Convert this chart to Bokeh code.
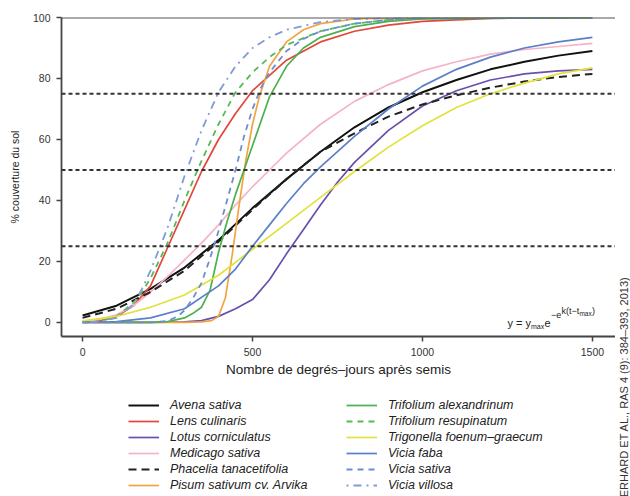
import math
from bokeh.plotting import figure
from bokeh.layouts import row, column
from bokeh.models import Span, Legend, LegendItem, Label, Range1d, FixedTicker
from bokeh.embed import file_html
from bokeh.resources import INLINE

# ---- data ----
avena_t = [0, 100, 200, 300, 400, 500, 600, 700, 800, 900, 1000, 1100, 1200, 1300, 1400, 1500]
avena_y = [2.3, 5.5, 11, 18, 27, 37.5, 47, 56, 64, 70.5, 75.5, 79.5, 83, 85.5, 87.5, 89]

lens_t = [0, 50, 100, 150, 200, 250, 300, 350, 400, 450, 500, 550, 600, 700, 800, 900, 1000, 1200, 1500]
lens_y = [0.1, 0.6, 2, 5.5, 12, 24.5, 37, 49.5, 60, 68.5, 76, 81, 86, 92, 95.5, 97.5, 98.7, 99.7, 100]

lotus_t = [0, 200, 300, 350, 400, 450, 500, 550, 600, 650, 700, 750, 800, 900, 1000, 1100, 1200, 1300, 1400, 1500]
lotus_y = [0, 0, 0.2, 0.6, 2, 4.5, 7.5, 14, 22.5, 30.5, 38.5, 46, 52.5, 63, 71, 76, 79.5, 81.5, 82.5, 83]

medicago_t = [0, 50, 100, 150, 200, 250, 300, 350, 400, 450, 500, 550, 600, 700, 800, 900, 1000, 1100, 1200, 1300, 1400, 1500]
medicago_y = [0.3, 1, 2.5, 5.5, 10, 15, 20.5, 26, 32, 38.5, 44.5, 50, 55.5, 65, 72.5, 78, 82.5, 85.5, 88, 89.5, 90.5, 91.5]

phacelia_t = [0, 100, 200, 300, 400, 500, 600, 700, 800, 900, 1000, 1100, 1200, 1300, 1400, 1500]
phacelia_y = [1.5, 4.5, 10, 17, 26.5, 37, 47, 56, 62, 67.5, 71.5, 74.5, 77, 79, 80.5, 81.5]

pisum_t = [0, 300, 350, 380, 400, 420, 440, 460, 480, 500, 520, 550, 600, 650, 700, 800, 1000, 1500]
pisum_y = [0, 0, 0.2, 0.6, 2, 8, 22, 38, 53, 65, 74, 84, 92, 96, 98, 99.5, 100, 100]

alexandrinum_t = [0, 200, 250, 300, 325, 350, 375, 400, 425, 450, 475, 500, 550, 600, 650, 700, 800, 900, 1000, 1500]
alexandrinum_y = [0, 0, 0.3, 1.5, 3, 5, 10.5, 23, 33, 42, 50, 58, 74, 84, 90, 93.5, 97, 98.7, 99.5, 100]

resupinatum_t = [0, 50, 100, 150, 175, 200, 250, 300, 350, 400, 450, 500, 550, 600, 700, 800, 900, 1000, 1500]
resupinatum_y = [0, 0.3, 2, 6.5, 10, 14.5, 26, 40, 53, 65, 75.5, 82, 87, 91, 95.5, 98, 99.2, 99.7, 100]

trigonella_t = [0, 100, 200, 300, 400, 500, 600, 700, 800, 900, 1000, 1100, 1200, 1300, 1400, 1500]
trigonella_y = [0.5, 2, 5, 9, 15.5, 24, 32.5, 41, 49.5, 57.5, 64.5, 70.5, 75, 78.5, 81.5, 83.5]

faba_t = [0, 100, 200, 300, 400, 450, 500, 550, 600, 650, 700, 800, 900, 1000, 1100, 1200, 1300, 1400, 1500]
faba_y = [0, 0.3, 1.5, 4.5, 12, 17.5, 25, 32, 39, 45.5, 51, 61, 70, 77.5, 83, 87, 90, 92, 93.5]

sativa_t = [0, 200, 250, 280, 300, 325, 350, 375, 400, 425, 450, 475, 500, 525, 550, 600, 650, 700, 800, 900, 1000, 1500]
sativa_y = [0, 0, 0.5, 2, 4, 8, 13, 21, 30, 40, 50, 61, 70, 77, 82, 89, 93, 95.5, 98, 99.2, 99.7, 100]

villosa_t = [0, 50, 100, 150, 175, 200, 225, 250, 300, 350, 400, 450, 500, 550, 600, 700, 800, 1000, 1500]
villosa_y = [0, 0.3, 1.5, 6, 11, 17, 24, 31, 48, 63, 75.5, 84, 90, 93.5, 96, 98.5, 99.5, 100, 100]

species = ["Avena sativa", "Lens culinaris", "Lotus corniculatus", "Medicago sativa",
           "Phacelia tanacetifolia", "Pisum sativum cv. Arvika",
           "Trifolium alexandrinum", "Trifolium resupinatum", "Trigonella foenum\u2013graecum",
           "Vicia faba", "Vicia sativa", "Vicia villosa"]
series_t = [avena_t, lens_t, lotus_t, medicago_t, phacelia_t, pisum_t,
            alexandrinum_t, resupinatum_t, trigonella_t, faba_t, sativa_t, villosa_t]
series_y = [avena_y, lens_y, lotus_y, medicago_y, phacelia_y, pisum_y,
            alexandrinum_y, resupinatum_y, trigonella_y, faba_y, sativa_y, villosa_y]

x_ticks = [0, 500, 1000, 1500]
y_ticks = [0, 20, 40, 60, 80, 100]
ref_levels = [25, 50, 75]
citation = "(GERHARD ET AL., RAS 4 (9): 384\u2013393, 2013)"

# ---- styles ----
colors = ["#111111", "#e2473b", "#6a4fae", "#f4b4c6", "#222222", "#f2a444",
          "#4cb04f", "#56b956", "#e2e23c", "#5b7fc8", "#6f8ed0", "#7f9bd8"]
dashes = ["solid", "solid", "solid", "solid", "8 5", "solid",
          "solid", "6 5", "solid", "solid", "6 5", "2 5 8 5"]
widths = [2.0, 1.7, 1.7, 1.7, 2.0, 1.7, 1.7, 1.8, 1.7, 1.7, 1.8, 1.8]

FONT = "Liberation Sans"

# ---- main plot ----
p = figure(width=615, height=382, output_backend="svg", toolbar_location=None,
           x_range=Range1d(-62, 1568), y_range=Range1d(-4.6, 100),
           min_border_left=61, min_border_right=0, min_border_top=17, min_border_bottom=46)
p.outline_line_color = None
p.grid.visible = False

for t, y, c, d, w in zip(series_t, series_y, colors, dashes, widths):
    p.line(t, y, line_color=c, line_dash=d, line_width=w)

for lv in ref_levels:
    p.add_layout(Span(location=lv, dimension="width", line_color="#333333",
                      line_dash="4 3", line_width=1.8))
p.add_layout(Span(location=100, dimension="width", line_color="#555555", line_width=2))

p.xaxis.ticker = FixedTicker(ticks=x_ticks)
p.yaxis.ticker = FixedTicker(ticks=y_ticks)
for ax in (p.xaxis[0], p.yaxis[0]):
    ax.axis_line_color = "#444444"
    ax.axis_line_width = 1.8
    ax.major_tick_line_color = "#444444"
    ax.major_tick_line_width = 1.5
    ax.major_tick_out = 5
    ax.major_tick_in = 0
    ax.minor_tick_line_color = None
    ax.major_label_text_font = FONT
    ax.major_label_text_font_size = "10.5px"
    ax.major_label_text_color = "#333333"
    ax.major_label_standoff = 6
    ax.axis_label_text_font = FONT
    ax.axis_label_text_font_style = "normal"
    ax.axis_label_text_color = "#222222"

p.xaxis.axis_label = "Nombre de degrés\u2013jours après semis"
p.xaxis.axis_label_text_font_size = "13.5px"
p.xaxis.axis_label_standoff = 3
p.yaxis.axis_label = "% couverture du sol"
p.yaxis.axis_label_text_font_size = "10.5px"
p.yaxis.axis_label_standoff = 9

# formula y = ymax e^(-e^(k(t - tmax)))
fx, fy = 1250, -0.33
parts = [("y = y", "11px", 0, 0), ("max", "7px", 23.5, -3), ("e", "11px", 37, 0),
         ("\u2212e", "9px", 43.5, 8), ("k(t\u2212t", "9px", 54, 12), ("max", "6.5px", 72, 10),
         (")", "9px", 84.5, 12)]
for txt, fs, xo, yo in parts:
    p.add_layout(Label(x=fx, y=fy, x_offset=xo, y_offset=yo, text=txt,
                       text_font=FONT, text_font_size=fs, text_color="#222222",
                       text_baseline="alphabetic", text_align="left"))

# ---- legend strip (its frame is aligned with the main frame, starting at x=61) ----
pl = figure(width=615, height=114, output_backend="svg", toolbar_location=None,
            x_range=Range1d(0, 554), y_range=Range1d(0, 114),
            x_axis_location=None, y_axis_location=None,
            min_border_left=0, min_border_right=0, min_border_top=0, min_border_bottom=0)
pl.grid.visible = False
pl.outline_line_color = None

leg_renderers = [pl.line(t, y, line_color=c, line_dash=d, line_width=w, visible=False)
                 for t, y, c, d, w in zip(series_t, series_y, colors, dashes, widths)]

def make_legend(idx, loc):
    items = [LegendItem(label=species[i], renderers=[leg_renderers[i]]) for i in idx]
    return Legend(items=items, location=loc, orientation="vertical",
                  padding=0, margin=0, spacing=0,
                  border_line_color=None, background_fill_alpha=0,
                  inactive_fill_alpha=0,
                  glyph_width=31, glyph_height=16, label_height=16, label_standoff=11,
                  label_text_font=FONT, label_text_font_style="italic",
                  label_text_font_size="12.5px", label_text_color="#222222")

pl.add_layout(make_legend(range(0, 6), (67, 3)))
pl.add_layout(make_legend(range(6, 12), (285, 3)))

# ---- narrow strip on the right for the vertical citation ----
pc = figure(width=15, height=496, output_backend="svg", toolbar_location=None,
            x_range=Range1d(0, 15), y_range=Range1d(0, 496),
            x_axis_location=None, y_axis_location=None,
            min_border_left=0, min_border_right=0, min_border_top=0, min_border_bottom=0)
pc.grid.visible = False
pc.outline_line_color = None
pc.add_layout(Label(x=8, y=220, text=citation, angle=math.pi / 2,
                    text_align="right", text_baseline="middle",
                    text_font=FONT, text_font_size="11px", text_color="#333333"))

layout = row(column(p, pl, spacing=0), pc, spacing=0)
open("out.html", "w").write(file_html(layout, INLINE))
